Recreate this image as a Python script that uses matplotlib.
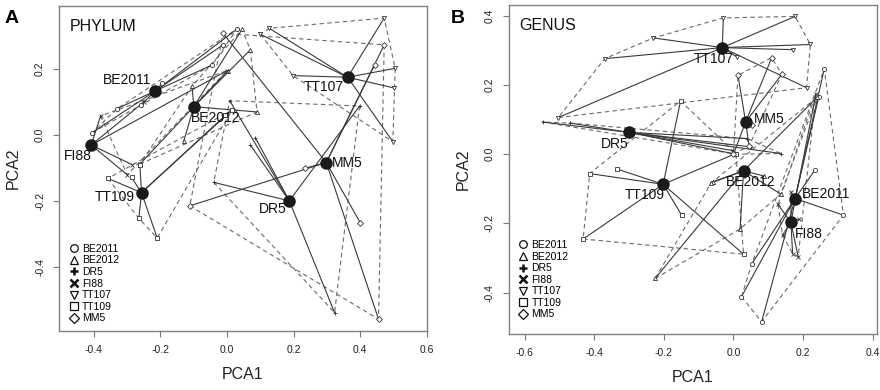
import numpy as np
import matplotlib
matplotlib.use("Agg")
import matplotlib.pyplot as plt
from matplotlib.lines import Line2D

plt.rcParams['font.family'] = ['Liberation Sans', 'DejaVu Sans']

groups = ["BE2011", "BE2012", "DR5", "FI88", "TT107", "TT109", "MM5"]
legend_markers = ["o", "^", "+", "x", "v", "s", "D"]

# ---------------- Panel A: PHYLUM ----------------
phylum_centroid_x = [-0.215, -0.100, 0.187, -0.408, 0.362, -0.257, 0.298]
phylum_centroid_y = [0.134, 0.086, -0.199, -0.030, 0.175, -0.174, -0.083]

phylum_BE2011_x = [-0.406, -0.33, -0.195, -0.045, -0.012, 0.030, -0.26]
phylum_BE2011_y = [0.007, 0.080, 0.157, 0.212, 0.273, 0.321, 0.090]
phylum_BE2012_x = [-0.105, -0.130, 0.070, 0.045, 0.002, -0.262, 0.090]
phylum_BE2012_y = [0.148, -0.018, 0.258, 0.320, 0.195, -0.088, 0.070]
phylum_DR5_x = [0.008, 0.085, 0.070, -0.040, 0.323, 0.398]
phylum_DR5_y = [0.104, -0.008, -0.030, -0.143, -0.537, 0.088]
phylum_FI88_x = [-0.380, -0.286, 0.000, -0.300, -0.250]
phylum_FI88_y = [0.058, -0.089, 0.195, -0.120, 0.100]
phylum_TT107_x = [0.127, 0.100, 0.198, 0.472, 0.505, 0.500, 0.498]
phylum_TT107_y = [0.323, 0.305, 0.180, 0.354, 0.202, 0.143, -0.020]
phylum_TT109_x = [-0.358, -0.287, -0.265, -0.210, -0.262, 0.015, -0.005]
phylum_TT109_y = [-0.131, -0.128, -0.252, -0.311, -0.089, 0.076, 0.060]
phylum_MM5_x = [-0.012, 0.472, 0.443, 0.400, 0.455, 0.235, -0.112]
phylum_MM5_y = [0.308, 0.273, 0.212, -0.265, -0.557, -0.100, -0.214]

# ---------------- Panel B: GENUS ----------------
genus_centroid_x = [0.177, 0.029, -0.300, 0.165, -0.032, -0.202, 0.035]
genus_centroid_y = [-0.128, -0.048, 0.063, -0.197, 0.308, -0.087, 0.093]

genus_BE2011_x = [0.234, 0.316, 0.023, 0.053, 0.081, 0.261, 0.245]
genus_BE2011_y = [-0.046, -0.176, -0.412, -0.316, -0.484, 0.247, 0.165]
genus_BE2012_x = [-0.060, 0.088, 0.019, 0.136, 0.241, -0.225, -0.064]
genus_BE2012_y = [-0.080, -0.063, -0.216, -0.115, 0.165, -0.359, -0.083]
genus_DR5_x = [-0.548, -0.470, 0.007, 0.050, 0.136, 0.040, 0.000]
genus_DR5_y = [0.093, 0.090, 0.000, 0.021, 0.002, 0.045, 0.010]
genus_FI88_x = [0.128, 0.141, 0.170, 0.186, 0.188, 0.237, 0.166]
genus_FI88_y = [-0.145, -0.234, -0.287, -0.296, -0.188, 0.175, -0.110]
genus_TT107_x = [-0.029, 0.177, 0.221, 0.170, 0.210, -0.230, -0.370, -0.503, 0.010]
genus_TT107_y = [0.394, 0.398, 0.317, 0.302, 0.192, 0.336, 0.276, 0.106, 0.281]
genus_TT109_x = [-0.152, -0.413, -0.334, -0.149, -0.432, 0.029, 0.007]
genus_TT109_y = [0.154, -0.056, -0.043, -0.176, -0.245, -0.289, 0.002]
genus_MM5_x = [0.013, 0.110, 0.139, 0.054, 0.045, 0.000]
genus_MM5_y = [0.228, 0.279, 0.231, 0.084, 0.024, 0.000]

phylum_members = [
    (phylum_BE2011_x, phylum_BE2011_y), (phylum_BE2012_x, phylum_BE2012_y),
    (phylum_DR5_x, phylum_DR5_y), (phylum_FI88_x, phylum_FI88_y),
    (phylum_TT107_x, phylum_TT107_y), (phylum_TT109_x, phylum_TT109_y),
    (phylum_MM5_x, phylum_MM5_y)]
genus_members = [
    (genus_BE2011_x, genus_BE2011_y), (genus_BE2012_x, genus_BE2012_y),
    (genus_DR5_x, genus_DR5_y), (genus_FI88_x, genus_FI88_y),
    (genus_TT107_x, genus_TT107_y), (genus_TT109_x, genus_TT109_y),
    (genus_MM5_x, genus_MM5_y)]

# label offsets (points) and alignment
phylum_label_style = {
    "BE2011": ((-3, 3), "right", "bottom"),
    "BE2012": ((-2, -3), "left", "top"),
    "DR5": ((-2, -1), "right", "top"),
    "FI88": ((0, -3), "right", "top"),
    "TT107": ((-3, -2), "right", "top"),
    "TT109": ((-5, -3), "right", "center"),
    "MM5": ((4, 0), "left", "center"),
}
genus_label_style = {
    "BE2011": ((5, 3), "left", "center"),
    "BE2012": ((5, -3), "center", "top"),
    "DR5": ((0, -3), "right", "top"),
    "FI88": ((3, -3), "left", "top"),
    "TT107": ((-6, -3), "center", "top"),
    "TT109": ((1, -3), "right", "top"),
    "MM5": ((6, 2), "left", "center"),
}


def convex_hull(pts):
    pts = sorted(set(pts))
    if len(pts) <= 2:
        return pts

    def cross(o, a, b):
        return (a[0] - o[0]) * (b[1] - o[1]) - (a[1] - o[1]) * (b[0] - o[0])
    lower, upper = [], []
    for p in pts:
        while len(lower) >= 2 and cross(lower[-2], lower[-1], p) <= 0:
            lower.pop()
        lower.append(p)
    for p in reversed(pts):
        while len(upper) >= 2 and cross(upper[-2], upper[-1], p) <= 0:
            upper.pop()
        upper.append(p)
    return lower[:-1] + upper[:-1]


def draw_panel(ax, cx, cy, members, label_style, title, xlim, ylim, xticks, yticks,
               legend_y):
    for gi, g in enumerate(groups):
        mx, my = members[gi]
        hull = convex_hull(list(zip(mx, my)))
        hx = [p[0] for p in hull] + [hull[0][0]]
        hy = [p[1] for p in hull] + [hull[0][1]]
        ax.plot(hx, hy, ls=(0, (4, 3)), color="#6a6a6a", lw=0.8, zorder=2)
        for x, y in zip(mx, my):
            ax.plot([cx[gi], x], [cy[gi], y], color="#3a3a3a", lw=0.8, zorder=3)
        ax.plot(mx, my, ls="none", marker=legend_markers[gi], ms=3,
                mfc="white" if legend_markers[gi] not in "+x" else "none",
                mec="#333333", mew=0.6, zorder=4)
    ax.plot(cx, cy, ls="none", marker="o", ms=8, color="#1a1a1a", zorder=5)
    for gi, g in enumerate(groups):
        off, ha, va = label_style[g]
        ax.annotate(g, (cx[gi], cy[gi]), xytext=off, textcoords="offset points",
                    ha=ha, va=va, fontsize=10, color="#111111", zorder=6)
    ax.text(0.03, 0.96, title, transform=ax.transAxes, ha="left", va="top",
            fontsize=11.5, color="#111111")
    ax.set_xlim(*xlim)
    ax.set_ylim(*ylim)
    ax.set_xticks(xticks)
    ax.set_yticks(yticks)
    ax.set_xticklabels([f"{t:.1f}" for t in xticks], fontsize=7.5, color="#222222")
    ax.set_yticklabels([f"{t:.1f}" for t in yticks], fontsize=7.5, color="#222222",
                       rotation=90, va="center")
    ax.tick_params(length=4, width=0.8, color="#777777", pad=6)
    for s in ax.spines.values():
        s.set_color("#808080")
        s.set_linewidth(1.0)
    ax.set_xlabel("PCA1", fontsize=11.5, color="#222222", labelpad=9)
    ax.set_ylabel("PCA2", fontsize=11.5, color="#222222", labelpad=10)
    handles = [Line2D([], [], ls="none", marker=m, ms=6 if m in "+x" else 5.5,
                      mfc="none", mec="#111111", mew=1.8 if m in "+x" else 0.9)
               for m in legend_markers]
    ax.legend(handles, groups, loc="lower left", bbox_to_anchor=(0.0, legend_y),
              frameon=False, fontsize=7.5, handlelength=0.8, handletextpad=0.4,
              labelspacing=0.15, borderaxespad=0.6)


fig = plt.figure(figsize=(8.8, 3.9), dpi=100)
axA = fig.add_axes([0.067, 0.151, 0.418, 0.834])
axB = fig.add_axes([0.578, 0.144, 0.419, 0.844])

draw_panel(axA, phylum_centroid_x, phylum_centroid_y, phylum_members,
           phylum_label_style, "PHYLUM", (-0.505, 0.60), (-0.593, 0.391),
           [-0.4, -0.2, 0.0, 0.2, 0.4, 0.6], [-0.4, -0.2, 0.0, 0.2], -0.008)
draw_panel(axB, genus_centroid_x, genus_centroid_y, genus_members,
           genus_label_style, "GENUS", (-0.646, 0.4135), (-0.519, 0.432),
           [-0.6, -0.4, -0.2, 0.0, 0.2, 0.4], [-0.4, -0.2, 0.0, 0.2, 0.4], 0.012)

fig.text(0.005, 0.975, "A", fontsize=14, fontweight="bold", ha="left", va="top")
fig.text(0.512, 0.975, "B", fontsize=14, fontweight="bold", ha="left", va="top")

fig.savefig("out.png", dpi=100)
